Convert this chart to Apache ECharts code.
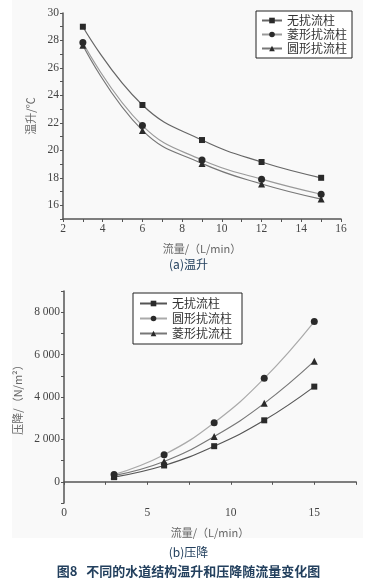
<!DOCTYPE html>
<html>
<head>
<meta charset="utf-8">
<script src="https://cdn.jsdelivr.net/npm/echarts@6/dist/echarts.min.js"></script>
<style>
  html, body { margin: 0; padding: 0; background: #fff; }
  #top { position: absolute; left: 0; top: 0; width: 377px; height: 280px; }
  #bottom { position: absolute; left: 0; top: 280px; width: 377px; height: 304px; }
</style>
</head>
<body>
<div id="top"></div>
<div id="bottom"></div>
<script>
const flow = [3, 6, 9, 12, 15];

// (a) temperature rise, ℃
const riseNone = [29.0, 23.3, 20.75, 19.15, 18.0];
const riseDiamond = [27.85, 21.8, 19.3, 17.9, 16.8];
const riseCircle = [27.65, 21.45, 19.05, 17.55, 16.45];

// (b) pressure drop, N/m²
const dropNone = [220, 770, 1680, 2900, 4490];
const dropCircle = [340, 1280, 2790, 4880, 7560];
const dropDiamond = [290, 960, 2140, 3700, 5690];

const serif = "'Liberation Serif', 'Noto Sans CJK SC', serif";
const cjk = "'Noto Sans CJK SC', sans-serif";
const axisColor = "#555";
const captionColor = "#23405e";

function pairs(ys) {
  return flow.map((x, i) => [x, ys[i]]);
}

function line(name, ys, lineColor, symbol, size) {
  return {
    type: "line",
    name,
    smooth: 0.45,
    symbol,
    symbolSize: size,
    data: pairs(ys),
    lineStyle: { color: lineColor, width: 1.2 },
    itemStyle: { color: "#2a2a2a" },
  };
}

function axisBase() {
  return {
    type: "value",
    axisLine: { show: true, lineStyle: { color: axisColor, width: 1.5 } },
    axisTick: { show: true, inside: false, length: 3, lineStyle: { color: axisColor } },
    splitLine: { show: false },
    axisLabel: { color: "#444", fontFamily: serif, fontSize: 11.5, margin: 4 },
    nameTextStyle: { color: "#666", fontFamily: cjk, fontSize: 11 },
    nameLocation: "middle",
  };
}

function legendBase(names) {
  return {
    orient: "vertical",
    data: names,
    backgroundColor: "#fff",
    borderColor: "#222",
    borderWidth: 1,
    borderRadius: 0,
    textStyle: { color: "#333", fontFamily: cjk, fontSize: 12, lineHeight: 13 },
  };
}

const topChart = echarts.init(document.getElementById("top"));
topChart.setOption({
  animation: false,
  graphic: [
    { type: "rect", z: -10, shape: { x: 12, y: 0, width: 351, height: 280 }, style: { fill: "#f9f9f9" } },
    {
      type: "text", left: "center", top: 258,
      style: { text: "(a)温升", fill: captionColor, font: "12px " + cjk },
    },
  ],
  grid: { left: 63, right: 36, top: 13, bottom: 61 },
  legend: Object.assign(legendBase(["无扰流柱", "菱形扰流柱", "圆形扰流柱"]), {
    left: 256, top: 11, itemWidth: 20, itemHeight: 7, itemGap: 1,
    padding: [3, 5, 3, 5],
  }),
  xAxis: Object.assign(axisBase(), {
    min: 2, max: 16, interval: 1,
    name: "流量/（L/min）", nameGap: 24,
    axisLabel: Object.assign(axisBase().axisLabel, {
      formatter: (v) => (v % 2 === 0 ? String(v) : ""),
    }),
  }),
  yAxis: Object.assign(axisBase(), {
    min: 15, max: 30, interval: 1,
    name: "温升/℃", nameGap: 25,
    axisLabel: Object.assign(axisBase().axisLabel, {
      formatter: (v) => (v % 2 === 0 ? String(v) : ""),
    }),
  }),
  series: [
    line("无扰流柱", riseNone, "#666", "rect", 6),
    line("菱形扰流柱", riseDiamond, "#9a9a9a", "circle", 7),
    line("圆形扰流柱", riseCircle, "#777", "triangle", 7),
  ],
});

const bottomChart = echarts.init(document.getElementById("bottom"));
bottomChart.setOption({
  animation: false,
  graphic: [
    { type: "rect", z: -10, shape: { x: 12, y: 0, width: 351, height: 258 }, style: { fill: "#f9f9f9" } },
    {
      type: "text", left: "center", top: 266,
      style: { text: "(b)压降", fill: captionColor, font: "12px " + cjk },
    },
    {
      type: "text", left: "center", top: 285,
      style: { text: "图8   不同的水道结构温升和压降随流量变化图", fill: captionColor, font: "bold 13px " + cjk },
    },
  ],
  grid: { left: 64, right: 21, top: 11, bottom: 81 },
  legend: Object.assign(legendBase(["无扰流柱", "圆形扰流柱", "菱形扰流柱"]), {
    left: 133, top: 13, itemWidth: 27, itemHeight: 7, itemGap: 2,
    padding: [4, 10, 4, 6],
  }),
  xAxis: Object.assign(axisBase(), {
    min: 0, max: 17.5, interval: 2.5,
    name: "流量/（L/min）", nameGap: 24,
    axisLabel: Object.assign(axisBase().axisLabel, {
      formatter: (v) => (v % 5 === 0 ? String(v) : ""),
    }),
  }),
  yAxis: Object.assign(axisBase(), {
    min: -1000, max: 9000, interval: 1000,
    name: "压降/（N/m²）", nameGap: 40,
    axisLabel: Object.assign(axisBase().axisLabel, {
      formatter: (v) => {
        if (v < 0 || v % 2000 !== 0) return "";
        return v >= 1000 ? Math.floor(v / 1000) + " 000" : String(v);
      },
    }),
  }),
  series: [
    line("无扰流柱", dropNone, "#555", "rect", 6),
    line("圆形扰流柱", dropCircle, "#aaa", "circle", 7),
    line("菱形扰流柱", dropDiamond, "#777", "triangle", 7),
  ],
});
</script>
</body>
</html>
